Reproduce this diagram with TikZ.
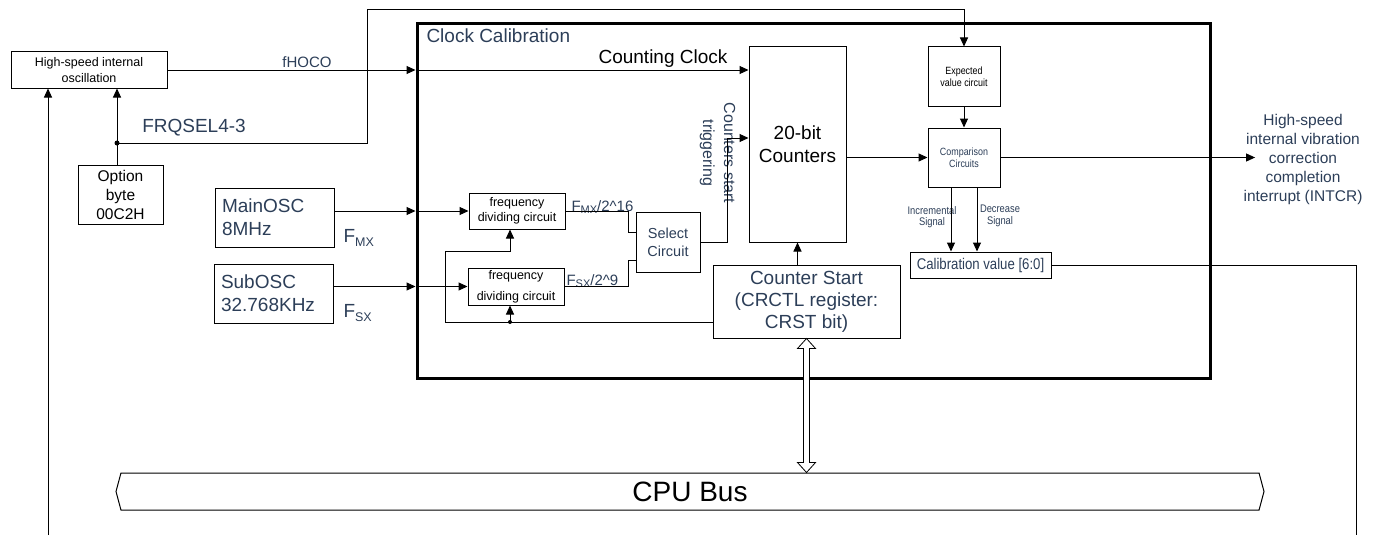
\documentclass[tikz,border=0pt]{standalone}
\usepackage{fontspec}
\setmainfont{Liberation Sans}
\newfontfamily\narrowfont{Liberation Sans}[FakeStretch=0.85]
\usetikzlibrary{arrows.meta,shapes.symbols,calc}
\definecolor{txtblue}{RGB}{44,62,88}
\newcommand\fsz[2]{\fontsize{#1}{#2}\selectfont}
\tikzset{every picture/.style={line width=1pt}}
\tikzset{
  box/.style={draw, inner sep=0pt, align=center, minimum width=#1},
  box/.default={60pt},
  lbl/.style={inner sep=0pt, align=center, text=txtblue},
  arr/.style={-{Triangle[length=9pt,width=8pt]}},
  dot/.style={circle, fill=black, minimum size=#1,
                inner sep=0pt, outer sep=0pt},
  dot/.default={5pt}, % diameter of the junction dots
}

\begin{document}
\begin{tikzpicture}[x=1pt, y=-1pt]
  \useasboundingbox (0,0) rectangle (1380,535);
  % outer blocks
  \node[box=156, minimum height=36, font=\fsz{12.5}{16}] (hoco) at (89,70) {High-speed internal\\oscillation};
  \node[box=85, minimum height=59, font=\fsz{15.5}{19}] (optb) at (120.5,194.5) {Option\\byte\\00C2H};
  \node[box=119, minimum height=59, text width=105, align=left, text=txtblue, font=\fsz{19}{23}] (mainosc) at (274.5,217.5) {MainOSC\\8MHz};
  \node[box=119, minimum height=59, text width=105, align=left, text=txtblue, font=\fsz{19}{23}] (subosc) at (273.5,293.5) {SubOSC\\32.768KHz};
  \node[lbl, font=\fsz{15}{18}] (fhoco) at (307,62) {fHOCO};
  \node[lbl, font=\fsz{19}{22}] (frq) at (194,128) {FRQSEL4-3};
  \node[lbl, anchor=west, font=\fsz{19}{22}] (fmx) at (343,238) {F\raisebox{-0.35ex}{\fsz{12.5}{13}MX}};
  \node[lbl, anchor=west, font=\fsz{19}{22}] (fsx) at (343,313) {F\raisebox{-0.35ex}{\fsz{12.5}{13}SX}};
  % clock calibration block
  \node[draw, line width=3pt, minimum width=793, minimum height=354, inner sep=0pt] (cal) at (813.5,201) {};
  \node[lbl, anchor=west, font=\fsz{19}{22}] (caltitle) at (426,36) {Clock Calibration};
  \node[inner sep=0pt, font=\fsz{19}{22}] (cclk) at (663,59) {Counting Clock};
  \node[box=96, minimum height=36, font=\fsz{12.5}{15}] (fd1) at (517,211) {frequency\\dividing circuit};
  \node[box=96, minimum height=37, font=\fsz{12.5}{21}] (fd2) at (516,286.5) {frequency\\dividing circuit};
  \node[lbl, anchor=west, font=\fsz{15}{18}] (fmxd) at (571,207) {F\raisebox{-0.3ex}{\fsz{11}{11}MX}/2\textasciicircum16};
  \node[lbl, anchor=west, font=\fsz{15}{18}] (fsxd) at (566,281) {F\raisebox{-0.3ex}{\fsz{11}{11}SX}/2\textasciicircum9};
  \node[box=64, minimum height=60, text=txtblue, font=\fsz{14.5}{18}] (sel) at (668,242) {Select\\Circuit};
  \node[lbl, rotate=-90, font=\fsz{16}{21}] (trgtxt) at (717.5,153) {Counters start\\triggering};
  \node[box=97, minimum height=195, font=\fsz{19}{23}] (cnt) at (797.5,144.5) {20-bit\\Counters};
  \node[box=187, minimum height=73, text=txtblue, font=\fsz{19}{22}] (cstart) at (806.5,301.5) {Counter Start\\(CRCTL register:\\CRST bit)};
  \node[box=72, minimum height=59, font=\narrowfont\fsz{10.5}{12}] (expv) at (964,76.5) {Expected\\value circuit};
  \node[box=72, minimum height=59, text=txtblue, font=\narrowfont\fsz{10.5}{12}] (comp) at (964,157.5) {Comparison\\Circuits};
  \node[lbl, font=\narrowfont\fsz{11}{11.5}] (inclbl) at (932,217) {Incremental\\Signal};
  \node[lbl, font=\narrowfont\fsz{11}{11.5}] (declbl) at (1000,216) {Decrease\\Signal};
  \node[box=141, minimum height=26, text=txtblue, font=\narrowfont\fsz{15.5}{18}] (calv) at (980.5,265) {Calibration value [6:0]};
  \node[lbl, font=\fsz{15.5}{19}] (intcr) at (1303,159) {High-speed\\internal vibration\\correction\\completion\\interrupt (INTCR)};
  % bus
  \node[draw, signal, signal to=west and east, signal pointer angle=150, minimum width=1148, minimum height=37, inner sep=0pt, font=\fsz{28}{30}] (bus) at (690,491.5) {CPU Bus};

  % connections
  \coordinate (optdot) at (117,143);
  \coordinate (bend) at (367,10);
  \coordinate (hsin) at (48,535);
  \draw (optb.north -| optdot) -- (optdot);
  \draw[arr] (optdot) -- (optdot |- hoco.south);
  \draw[arr] (optdot) -| (bend) -| (expv.north);
  \node[dot] (optjn) at (optdot) {};
  \draw[arr] (hsin) -- (hsin |- hoco.south);
  \draw[arr] (hoco.east) -- (hoco.east -| cal.west);
  \draw[arr] (hoco.east -| cal.west) -- (hoco.east -| cnt.west);
  \draw[arr] (mainosc.east |- fd1.west) -- (cal.west |- fd1.west);
  \draw[arr] (cal.west |- fd1.west) -- (fd1.west);
  \draw[arr] (subosc.east |- fd2.west) -- (cal.west |- fd2.west);
  \draw[arr] (cal.west |- fd2.west) -- (fd2.west);
  \coordinate (j1) at (628,232);
  \coordinate (j2) at (628,260);
  \draw (fd1.east) -| (j1) -- (j1 -| sel.west);
  \draw (fd2.east) -| (j2) -- (j2 -| sel.west);
  \coordinate (trg) at (727,138);
  \draw[arr] (sel.east) -| (trg) -- (trg -| cnt.west);
  \draw[arr] (cstart.north -| cnt.south) -- (cnt.south);
  % restart feedback to the dividers
  \coordinate (fbdot) at (510,322);
  \coordinate (fbl) at (445,322);
  \coordinate (fbt) at (445,251);
  \draw (cstart.west |- fbdot) -- (fbl) -- (fbt);
  \draw[arr] (fbt) -| (fd1.south -| fbdot);
  \draw[arr] (fbdot) -- (fbdot |- fd2.south);
  \node[dot=4pt] (fbjn) at (fbdot) {};
  \draw[arr] (cnt.east |- comp.west) -- (comp.west);
  \draw[arr] (comp.east) -- ([xshift=12pt]comp.east -| intcr.west);
  \draw[arr] (expv.south) -- (comp.north);
  \draw[arr] ([xshift=-13pt]comp.south) -- ([xshift=-13pt]comp.south |- calv.north);
  \draw[arr] ([xshift=13pt]comp.south) -- ([xshift=13pt]comp.south |- calv.north);
  \coordinate (cvout) at (1356,535);
  \draw (calv.east) -| (cvout);
  % bus access
  \coordinate (dbtop) at (cstart.south);
  \coordinate (dbbot) at (cstart.south |- bus.north);
  \draw[fill=white, line width=0.8pt] (dbtop) -- ($(dbtop)+(9,10)$) -- ($(dbtop)+(3,10)$)
    -- ($(dbbot)+(3,-10)$) -- ($(dbbot)+(9,-10)$) -- (dbbot) -- ($(dbbot)+(-9,-10)$)
    -- ($(dbbot)+(-3,-10)$) -- ($(dbtop)+(-3,10)$) -- ($(dbtop)+(-9,10)$) -- cycle;
\end{tikzpicture}
\end{document}
